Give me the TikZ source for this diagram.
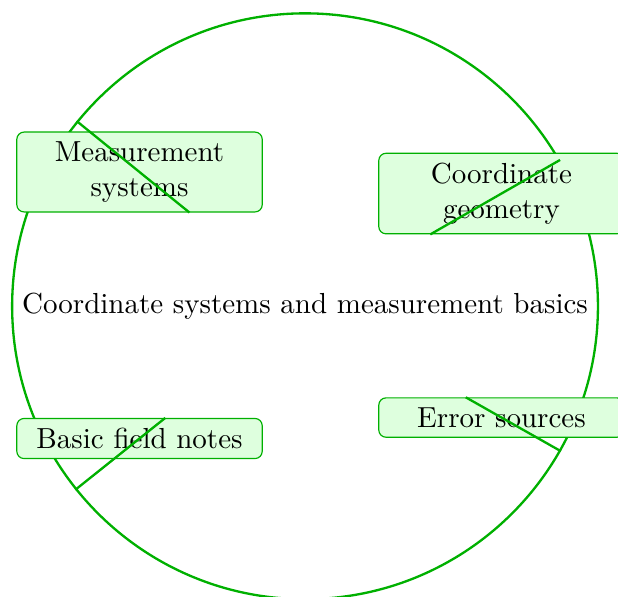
\documentclass[tikz,border=0pt]{standalone}
\usepackage{xcolor}
\definecolor{mmgreen}{RGB}{0,176,0}
\definecolor{mmfill}{RGB}{222,255,222}
\usepackage{tikz}
\usetikzlibrary{positioning}

\tikzset{
  topic/.style={draw=mmgreen, thin, fill=mmfill, rounded corners=2.5pt, text width=2.74cm, align=center},
  link/.style={draw=mmgreen, thick}
}

\begin{document}
\begin{tikzpicture}
  \useasboundingbox (0,0) rectangle (7.49,7.224);

  % Root circle
  \node[circle, draw=mmgreen, thick, minimum size=7.1cm, inner sep=0pt] (root) at (3.697,3.512)
       {Coordinate systems and measurement basics};

  % Topics
  \node[topic] (measure) at (1.691,5.139) {Measurement systems};
  \node[topic] (coordgeo) at (6.078,4.878) {Coordinate geometry};
  \node[topic] (fieldnotes) at (1.691,1.909) {Basic field notes};
  \node[topic] (errors) at (6.078,2.163) {Error sources};

  % Links
  \draw[link] (root) -- (measure);
  \draw[link] (root) -- (coordgeo);
  \draw[link] (root) -- (fieldnotes);
  \draw[link] (root) -- (errors);
\end{tikzpicture}
\end{document}
